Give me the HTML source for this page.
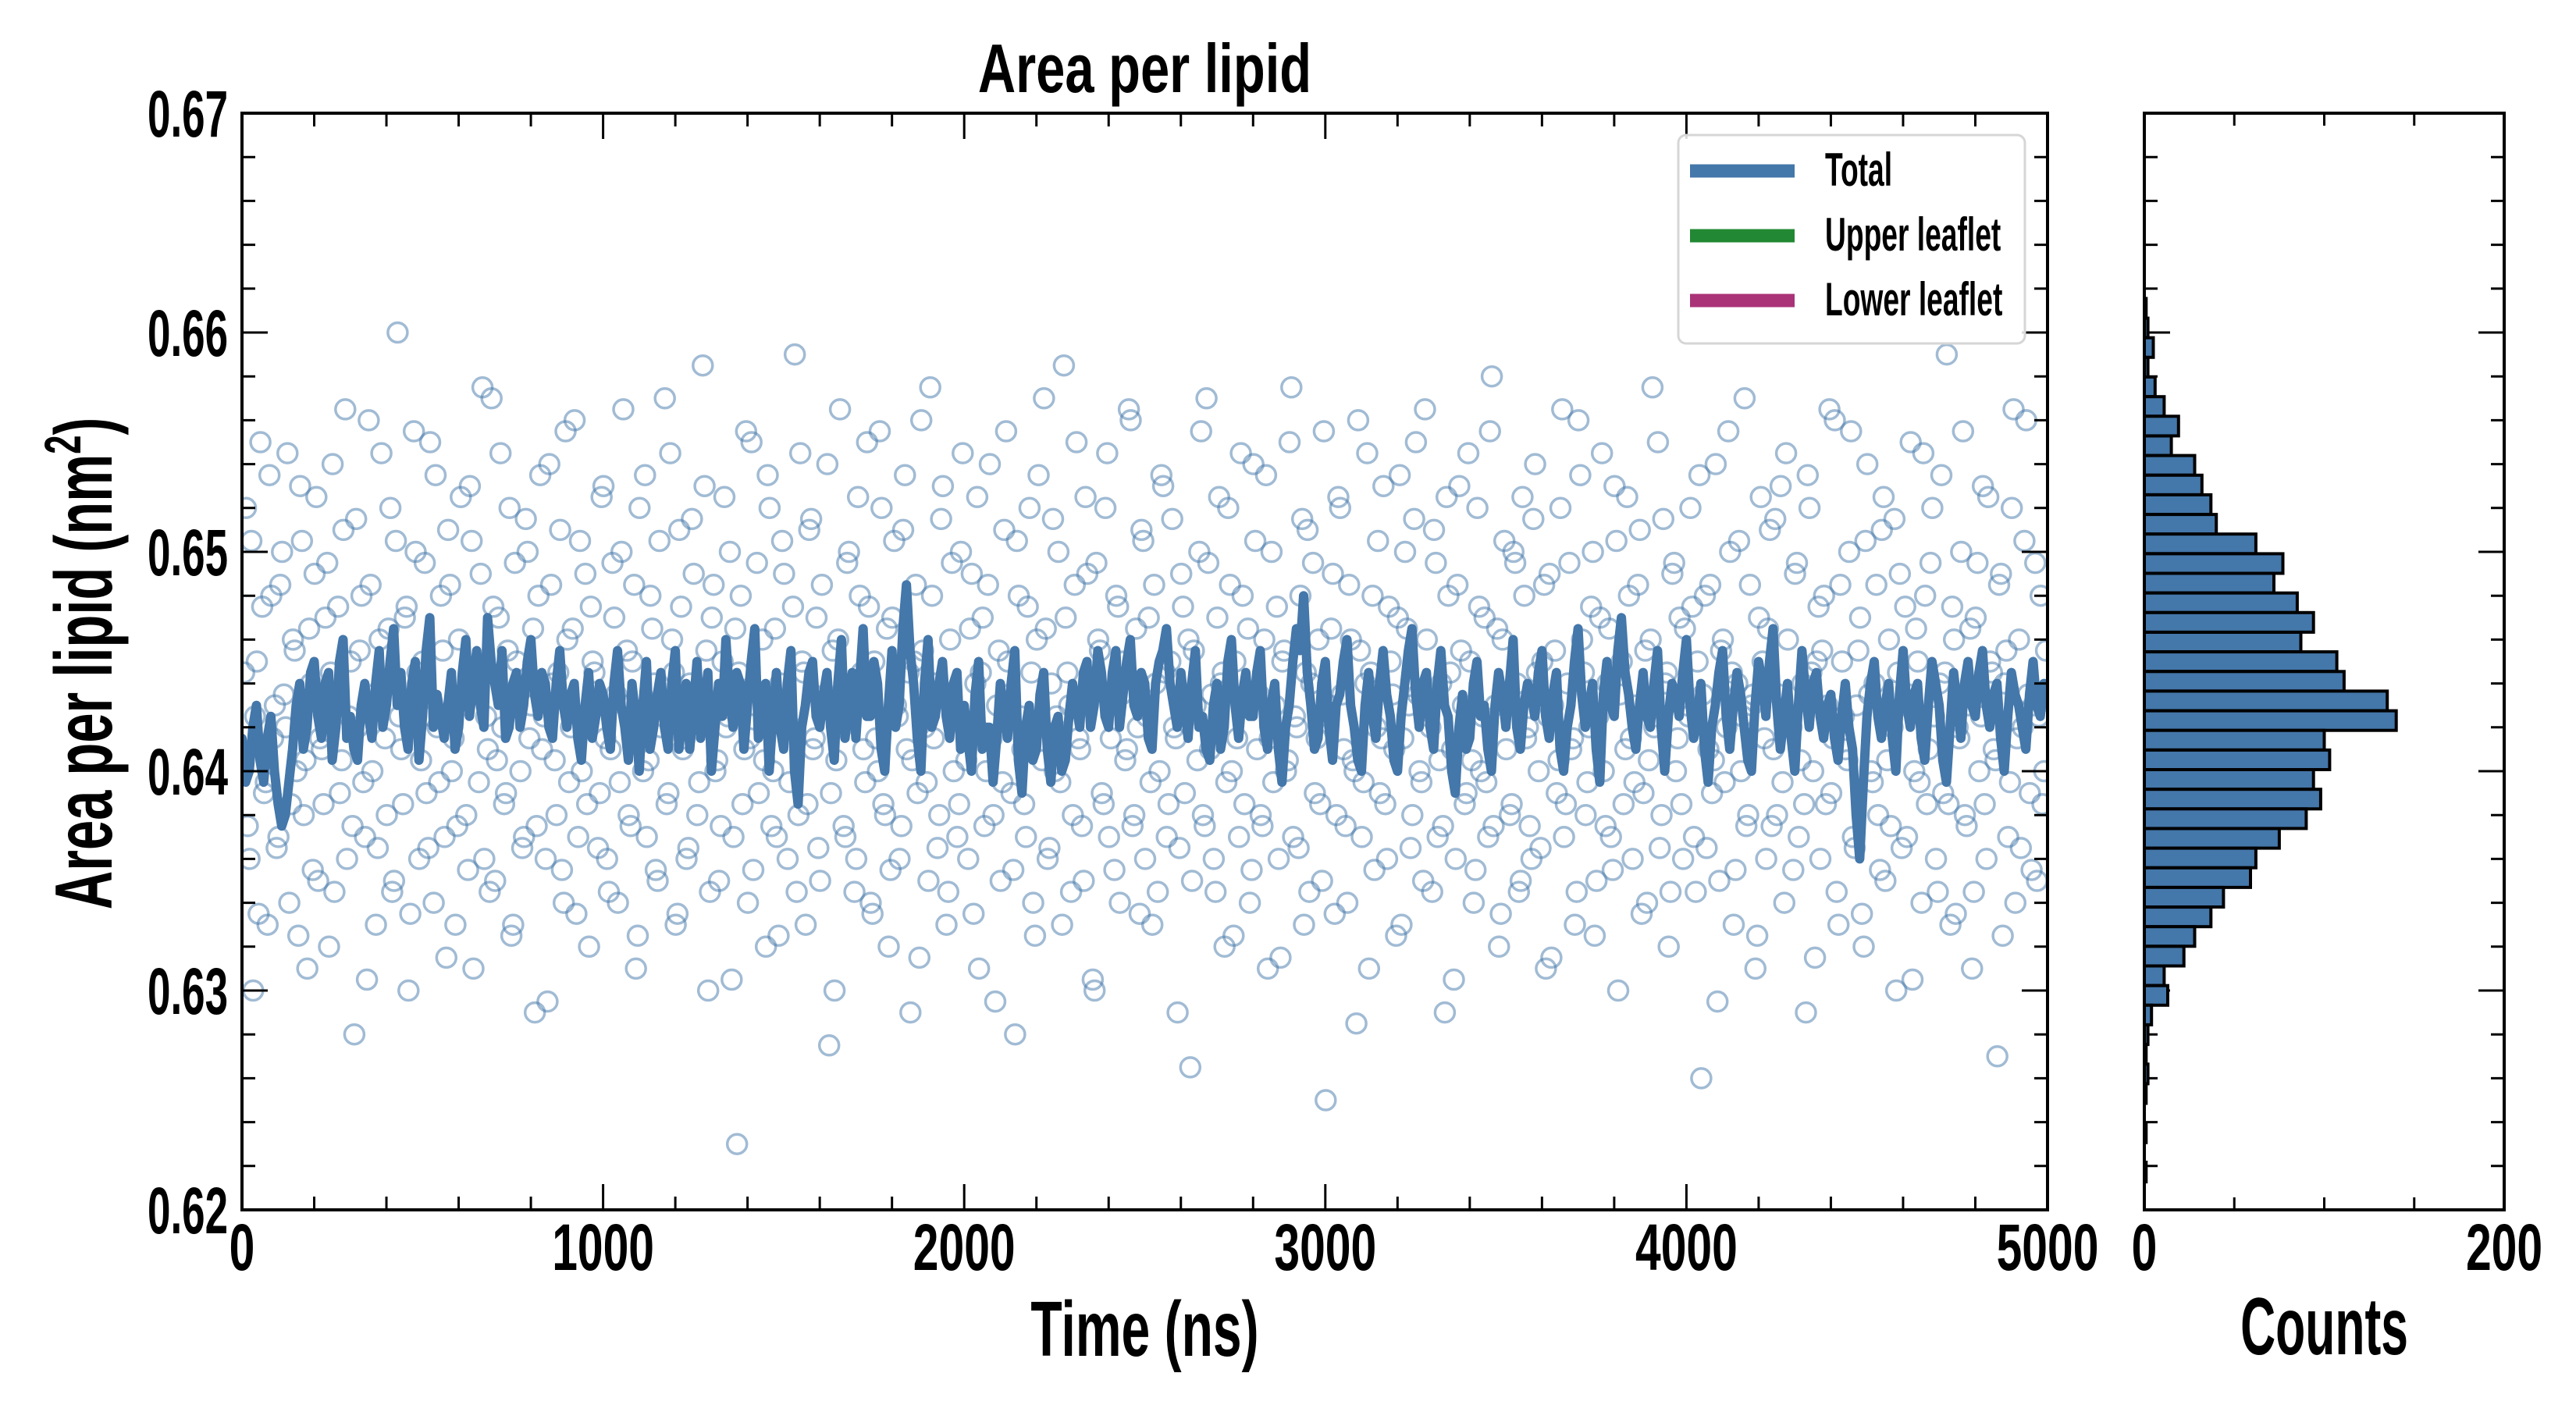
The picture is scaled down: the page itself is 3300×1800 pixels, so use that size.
<!DOCTYPE html>
<html><head><meta charset="utf-8"><title>Area per lipid</title>
<style>
html,body{margin:0;padding:0;background:#fff;}
svg{display:block;}
text{font-family:"Liberation Sans Narrow","Liberation Sans",sans-serif;font-weight:bold;fill:#000;}
</style></head>
<body>
<svg id="chart" xmlns="http://www.w3.org/2000/svg" width="3300" height="1800" viewBox="0 0 3300 1800">
<rect x="0" y="0" width="3300" height="1800" fill="#fff"/>
<g id="main"></g>
<g id="hist"></g>
</svg>
<script>
// ---- data ----
const lineStepNs = 10;
const lineValuesEven = [
0.6415,0.6400,0.6430,0.6395,0.6425,0.6385,0.6380,0.6410,0.6440,0.6420,
0.6450,0.6415,0.6445,0.6420,0.6460,0.6425,0.6405,0.6440,0.6415,0.6455,
0.6430,0.6465,0.6445,0.6410,0.6450,0.6425,0.6470,0.6435,0.6415,0.6445,
0.6420,0.6460,0.6440,0.6430,0.6470,0.6440,0.6455,0.6420,0.6445,0.6430,
0.6460,0.6425,0.6440,0.6415,0.6455,0.6420,0.6440,0.6405,0.6445,0.6425,
0.6435,0.6410,0.6455,0.6420,0.6440,0.6400,0.6450,0.6420,0.6445,0.6410,
0.6455,0.6425,0.6410,0.6450,0.6430,0.6400,0.6440,0.6460,0.6420,0.6440,
0.6430,0.6465,0.6425,0.6400,0.6445,0.6410,0.6455,0.6385,0.6430,0.6450,
0.6420,0.6445,0.6405,0.6460,0.6430,0.6415,0.6465,0.6425,0.6440,0.6400,
0.6455,0.6430,0.6485,0.6440,0.6400,0.6460,0.6425,0.6450,0.6415,0.6445,
0.6430,0.6400,0.6450,0.6420,0.6395,0.6440,0.6415,0.6455,0.6390,0.6430,
0.6410,0.6445,0.6395,0.6425,0.6405,0.6440,0.6420,0.6450,0.6430,0.6445,
0.6420,0.6455,0.6435,0.6460,0.6425,0.6440,0.6410,0.6450,0.6465,0.6430,
0.6445,0.6415,0.6455,0.6425,0.6405,0.6440,0.6420,0.6460,0.6415,0.6445,
0.6425,0.6455,0.6410,0.6440,0.6395,0.6430,0.6465,0.6480,0.6430,0.6415,
0.6450,0.6405,0.6435,0.6460,0.6420,0.6400,0.6445,0.6415,0.6455,0.6425,
0.6400,0.6440,0.6465,0.6420,0.6445,0.6410,0.6455,0.6425,0.6390,0.6435,
0.6415,0.6450,0.6430,0.6400,0.6445,0.6420,0.6460,0.6410,0.6440,0.6425,
0.6455,0.6415,0.6445,0.6400,0.6430,0.6465,0.6420,0.6440,0.6395,0.6450,
0.6425,0.6470,0.6435,0.6410,0.6445,0.6420,0.6455,0.6400,0.6440,0.6425,
0.6460,0.6415,0.6440,0.6395,0.6430,0.6455,0.6410,0.6445,0.6420,0.6400,
0.6450,0.6425,0.6465,0.6410,0.6440,0.6400,0.6455,0.6420,0.6445,0.6415,
0.6435,0.6405,0.6440,0.6410,0.6360,0.6425,0.6450,0.6415,0.6440,0.6400,
0.6455,0.6420,0.6440,0.6405,0.6450,0.6430,0.6395,0.6445,0.6415,0.6450,
0.6425,0.6455,0.6420,0.6440,0.6400,0.6445,0.6430,0.6410,0.6450,0.6425,0.6435
];
const lineValuesOdd = [
0.6395,0.6420,0.6405,0.6415,0.6400,0.6375,0.6395,0.6430,0.6410,0.6445,
0.6425,0.6440,0.6405,0.6450,0.6415,0.6410,0.6430,0.6425,0.6440,0.6420,
0.6450,0.6430,0.6420,0.6440,0.6405,0.6455,0.6420,0.6425,0.6430,0.6410,
0.6445,0.6425,0.6455,0.6420,0.6450,0.6430,0.6415,0.6440,0.6420,0.6450,
0.6435,0.6445,0.6420,0.6440,0.6430,0.6435,0.6415,0.6430,0.6415,0.6440,
0.6420,0.6440,0.6430,0.6405,0.6425,0.6430,0.6410,0.6435,0.6420,0.6440,
0.6410,0.6440,0.6430,0.6415,0.6445,0.6420,0.6425,0.6435,0.6445,0.6410,
0.6450,0.6415,0.6440,0.6425,0.6420,0.6440,0.6400,0.6420,0.6445,0.6425,
0.6435,0.6420,0.6440,0.6415,0.6445,0.6440,0.6425,0.6450,0.6410,0.6430,
0.6420,0.6465,0.6455,0.6415,0.6440,0.6420,0.6440,0.6425,0.6440,0.6410,
0.6415,0.6435,0.6410,0.6420,0.6415,0.6425,0.6440,0.6405,0.6420,0.6405,
0.6435,0.6410,0.6420,0.6400,0.6425,0.6430,0.6445,0.6420,0.6455,0.6425,
0.6445,0.6420,0.6450,0.6430,0.6445,0.6415,0.6440,0.6455,0.6440,0.6420,
0.6430,0.6440,0.6420,0.6410,0.6430,0.6410,0.6450,0.6430,0.6435,0.6425,
0.6445,0.6420,0.6430,0.6410,0.6420,0.6450,0.6455,0.6445,0.6410,0.6440,
0.6420,0.6430,0.6450,0.6430,0.6405,0.6430,0.6425,0.6440,0.6435,0.6405,
0.6425,0.6455,0.6435,0.6440,0.6420,0.6440,0.6430,0.6400,0.6420,0.6410,
0.6440,0.6425,0.6410,0.6430,0.6435,0.6440,0.6420,0.6430,0.6435,0.6445,
0.6425,0.6435,0.6410,0.6420,0.6450,0.6435,0.6430,0.6410,0.6435,0.6430,
0.6455,0.6445,0.6420,0.6430,0.6425,0.6440,0.6420,0.6425,0.6435,0.6445,
0.6430,0.6425,0.6410,0.6420,0.6445,0.6425,0.6430,0.6435,0.6405,0.6430,
0.6440,0.6450,0.6430,0.6425,0.6415,0.6430,0.6435,0.6440,0.6425,0.6430,
0.6415,0.6425,0.6420,0.6380,0.6395,0.6440,0.6425,0.6430,0.6415,0.6435,
0.6430,0.6435,0.6415,0.6430,0.6440,0.6405,0.6420,0.6430,0.6440,0.6430,
0.6445,0.6430,0.6435,0.6415,0.6425,0.6435,0.6420,0.6435,0.6430,0.6440
];
const scatterValues = [
.641,.652,.636,.630,.645,.655,.639,.633,.648,.643,.637,.650,.642,.634,.646,.640,.653,.638,.631,.644,
.649,.635,.641,.647,.632,.654,.643,.639,.651,.636,.645,.628,.642,.648,.637,.656,.640,.633,.646,.644,
.638,.652,.635,.660,.641,.647,.630,.643,.650,.636,.645,.639,.655,.634,.642,.648,.637,.651,.640,.633,
.646,.643,.638,.653,.631,.644,.649,.636,.641,.657,.635,.647,.642,.639,.652,.633,.645,.640,.637,.650,
.643,.629,.648,.641,.636,.654,.644,.638,.651,.634,.646,.642,.656,.637,.640,.649,.632,.645,.643,.639,
.653,.636,.641,.647,.634,.650,.643,.638,.645,.631,.652,.640,.637,.648,.644,.635,.642,.657,.639,.646,
.633,.651,.641,.636,.644,.649,.638,.643,.653,.630,.647,.640,.635,.645,.642,.650,.637,.623,.648,.641,
.634,.655,.643,.639,.646,.632,.652,.640,.637,.644,.649,.636,.642,.659,.638,.645,.633,.651,.641,.647,
.635,.643,.654,.639,.630,.646,.642,.637,.650,.644,.636,.648,.641,.655,.634,.645,.640,.652,.638,.632,
.647,.643,.636,.651,.641,.629,.645,.639,.656,.642,.635,.648,.644,.638,.653,.633,.646,.640,.637,.650,
.642,.636,.649,.644,.631,.647,.640,.654,.638,.643,.635,.651,.645,.639,.628,.648,.641,.637,.652,.634,
.646,.642,.657,.636,.644,.640,.650,.633,.647,.643,.638,.655,.641,.635,.649,.644,.630,.646,.639,.652,
.637,.643,.648,.634,.645,.641,.656,.638,.642,.651,.636,.647,.633,.644,.640,.653,.637,.645,.642,.629,
.649,.639,.646,.635,.643,.650,.638,.657,.641,.636,.647,.644,.632,.652,.640,.645,.637,.648,.643,.634,
.654,.641,.638,.646,.631,.650,.643,.636,.645,.640,.655,.637,.642,.648,.633,.651,.644,.639,.646,.635,
.625,.643,.649,.638,.652,.641,.634,.646,.640,.656,.637,.644,.631,.648,.642,.639,.653,.636,.645,.641,
.647,.633,.650,.643,.638,.655,.640,.635,.646,.642,.651,.637,.644,.629,.648,.641,.636,.653,.643,.639,
.645,.634,.652,.640,.647,.637,.658,.643,.632,.646,.641,.638,.650,.644,.635,.648,.642,.636,.654,.640,
.645,.631,.649,.643,.639,.652,.637,.644,.641,.633,.656,.646,.638,.642,.650,.635,.647,.640,.644,.637,
.653,.630,.645,.641,.648,.636,.643,.651,.639,.634,.646,.642,.655,.638,.644,.632,.649,.640,.647,.636,
.643,.652,.637,.645,.626,.648,.641,.639,.654,.635,.646,.642,.650,.633,.644,.640,.657,.638,.643,.631,
.647,.645,.636,.651,.641,.638,.653,.634,.646,.642,.649,.637,.644,.629,.652,.640,.645,.636,.648,.643,
.639,.656,.633,.645,.641,.650,.637,.643,.647,.632,.654,.640,.644,.638,.651,.635,.646,.642,.630,.649,
.643,.637,.655,.640,.645,.634,.648,.641,.652,.636,.644,.639,.659,.633,.646,.642,.650,.638,.643,.631,
.647,.640,.653,.636,.645,.641,.627,.649,.644,.637,.652,.634,.646,.642,.656,.639,.643,.635,.648,.640
];
const scatterValuesB = [
.6445,.6375,.6505,.6425,.6335,.6475,.6395,.6535,.6415,.6365,.6485,.6435,.6545,.6385,.6455,.6325,.6505,.6405,.6465,.6355,
.6525,.6415,.6385,.6495,.6445,.6345,.6475,.6405,.6565,.6425,.6375,.6515,.6455,.6395,.6305,.6485,.6435,.6365,.6545,.6415,
.6465,.6345,.6505,.6425,.6385,.6475,.6335,.6555,.6445,.6405,.6495,.6365,.6425,.6535,.6395,.6455,.6315,.6485,.6415,.6375,
.6525,.6435,.6355,.6505,.6445,.6395,.6575,.6425,.6345,.6475,.6405,.6545,.6385,.6455,.6325,.6495,.6435,.6365,.6515,.6415,
.6465,.6375,.6535,.6425,.6295,.6485,.6405,.6445,.6355,.6555,.6395,.6465,.6335,.6505,.6425,.6385,.6475,.6445,.6365,.6525,
.6415,.6345,.6495,.6435,.6395,.6565,.6455,.6375,.6485,.6325,.6415,.6535,.6405,.6465,.6355,.6505,.6425,.6385,.6545,.6445,
.6335,.6475,.6415,.6365,.6515,.6435,.6395,.6585,.6455,.6345,.6485,.6405,.6375,.6525,.6425,.6305,.6465,.6445,.6385,.6555,
.6415,.6355,.6495,.6435,.6405,.6535,.6375,.6465,.6325,.6505,.6425,.6395,.6475,.6345,.6545,.6445,.6385,.6515,.6415,.6365,
.6485,.6435,.6275,.6455,.6405,.6565,.6375,.6495,.6425,.6345,.6525,.6445,.6395,.6475,.6335,.6415,.6555,.6385,.6465,.6355,
.6505,.6425,.6375,.6535,.6445,.6405,.6485,.6315,.6455,.6395,.6575,.6415,.6365,.6515,.6435,.6345,.6495,.6425,.6385,.6545,
.6405,.6465,.6335,.6525,.6445,.6375,.6485,.6415,.6295,.6455,.6395,.6555,.6435,.6355,.6505,.6425,.6385,.6475,.6445,.6325,
.6535,.6405,.6465,.6365,.6515,.6425,.6395,.6585,.6445,.6345,.6485,.6415,.6375,.6525,.6435,.6305,.6495,.6455,.6385,.6545,
.6415,.6355,.6475,.6435,.6405,.6565,.6375,.6465,.6335,.6505,.6425,.6395,.6485,.6345,.6535,.6445,.6385,.6515,.6415,.6365,
.6475,.6425,.6265,.6455,.6405,.6555,.6375,.6495,.6435,.6345,.6525,.6445,.6395,.6485,.6325,.6415,.6545,.6385,.6465,.6355,
.6505,.6435,.6375,.6535,.6415,.6395,.6475,.6315,.6455,.6405,.6575,.6425,.6365,.6515,.6445,.6345,.6495,.6415,.6385,.6555,
.6425,.6465,.6335,.6525,.6435,.6375,.6485,.6405,.6285,.6455,.6395,.6545,.6445,.6355,.6505,.6415,.6385,.6475,.6435,.6325,
.6535,.6415,.6465,.6365,.6515,.6435,.6395,.6565,.6425,.6345,.6495,.6405,.6375,.6525,.6445,.6305,.6485,.6455,.6385,.6545,
.6405,.6355,.6475,.6425,.6395,.6555,.6375,.6465,.6335,.6505,.6435,.6385,.6495,.6345,.6525,.6415,.6375,.6515,.6445,.6365,
.6485,.6425,.6315,.6455,.6405,.6565,.6385,.6495,.6415,.6345,.6535,.6445,.6395,.6475,.6325,.6425,.6545,.6375,.6465,.6355,
.6505,.6435,.6385,.6525,.6415,.6395,.6485,.6335,.6455,.6405,.6575,.6425,.6365,.6515,.6445,.6345,.6495,.6415,.6385,.6465,
.6425,.6475,.6345,.6535,.6435,.6365,.6485,.6405,.6295,.6455,.6395,.6555,.6445,.6355,.6505,.6425,.6375,.6485,.6435,.6325,
.6525,.6415,.6465,.6375,.6515,.6435,.6395,.6545,.6425,.6355,.6495,.6405,.6385,.6535,.6445,.6315,.6475,.6455,.6385,.6565,
.6415,.6345,.6485,.6425,.6405,.6555,.6365,.6455,.6335,.6505,.6435,.6395,.6485,.6355,.6525,.6405,.6375,.6515,.6445,.6365,
.6475,.6435,.6305,.6465,.6395,.6545,.6385,.6495,.6425,.6345,.6535,.6445,.6385,.6475,.6335,.6415,.6555,.6375,.6465,.6345,
.6495,.6425,.6385,.6525,.6445,.6405,.6485,.6325,.6455,.6395,.6565,.6415,.6365,.6505,.6435,.6355,.6495,.6425,.6385,.6455
];
const histCounts = [1,2,5,2,6,11,19,15,28,32,37,40,62,77,72,85,94,87,107,111,135,140,100,103,94,98,90,75,62,59,44,37,28,22,11,13,4,2,1,2,1,0,1,0,1];
const histTopValue = 0.66155;
const histBinWidth = 0.000895;
const yTicks = [0.62,0.63,0.64,0.65,0.66,0.67];
const yTickLabels = ["0.62","0.63","0.64","0.65","0.66","0.67"];
const xTicks = [0,1000,2000,3000,4000,5000];
const xTickLabels = ["0","1000","2000","3000","4000","5000"];
const countTicks = [0,200];
const countTickLabels = ["0","200"];
const legendLabels = ["Total","Upper leaflet","Lower leaflet"];
const legendColors = ["#4477aa","#228833","#aa3377"];

// ---- geometry ----
const NS = "http://www.w3.org/2000/svg";
const PL = 310, PR = 2623, PT = 145, PB = 1550;
const HL = 2747, HR = 3208;
const xMin = 0, xMax = 5000, yMin = 0.62, yMax = 0.67, cMax = 200;
function xs(t){ return PL + (t - xMin) / (xMax - xMin) * (PR - PL); }
function ys(v){ return PB - (v - yMin) / (yMax - yMin) * (PB - PT); }
function cs(c){ return HL + c / cMax * (HR - HL); }
function mk(tag, attrs, parent){
  const e = document.createElementNS(NS, tag);
  for (const k in attrs) e.setAttribute(k, attrs[k]);
  parent.appendChild(e);
  return e;
}
function txt(s, x, y, size, anchor, parent, sx){
  const t = mk("text", {transform:"translate("+x+","+y+") scale("+(sx||0.66)+",1)", "font-size":size, "text-anchor":anchor}, parent);
  t.textContent = s;
  return t;
}
const main = document.getElementById("main");
const hist = document.getElementById("hist");

const defs = mk("defs", {}, document.getElementById("chart"));
const cp = mk("clipPath", {id:"clipMain"}, defs);
mk("rect", {x:PL, y:PT, width:PR-PL, height:PB-PT}, cp);

// scatter
const sg = mk("g", {"clip-path":"url(#clipMain)"}, main);


function drawScatter(arr, offsetFrac){
  const step = xMax / arr.length;
  arr.forEach(function(v, i){
    const t = (i + offsetFrac) * step;
    const c = mk("circle", {cx:xs(t).toFixed(1), cy:ys(v).toFixed(1), r:12.5, fill:"none", stroke:"#4477aa", "stroke-opacity":0.5, "stroke-width":3.5}, sg);
    
    
  });
}
drawScatter(scatterValues, 0.1);
drawScatter(scatterValuesB, 0.6);

// line (interleave even/odd samples)
let d = "";
for (let i = 0; i < lineValuesEven.length; i++){
  d += (i ? "L" : "M") + xs(2 * i * lineStepNs).toFixed(1) + "," + ys(lineValuesEven[i]).toFixed(1);
  if (i < lineValuesOdd.length) d += "L" + xs((2 * i + 1) * lineStepNs).toFixed(1) + "," + ys(lineValuesOdd[i]).toFixed(1);
}
const ln = mk("path", {d:d, fill:"none", stroke:"#4477aa", "stroke-width":12, "stroke-linejoin":"round", "stroke-linecap":"round", "clip-path":"url(#clipMain)"}, main);



function frame(parent, L, R, name){
  const r = mk("rect", {x:L, y:PT, width:R-L, height:PB-PT, fill:"none", stroke:"#000", "stroke-width":4}, parent);
  
  
  for (let v = 0; v <= 25; v++){
    const val = yMin + v * 0.002;
    const y = ys(val);
    const len = (v % 5 === 0) ? 33 : 17;
    mk("line", {x1:L, y1:y, x2:L+len, y2:y, stroke:"#000", "stroke-width":3}, parent);
    mk("line", {x1:R, y1:y, x2:R-len, y2:y, stroke:"#000", "stroke-width":3}, parent);
  }
}
frame(main, PL, PR, "main-plot-frame");
for (let t = 0; t <= 5000; t += 200){
  const x = xs(t);
  const len = (t % 1000 === 0) ? 33 : 17;
  mk("line", {x1:x, y1:PB, x2:x, y2:PB-len, stroke:"#000", "stroke-width":3}, main);
  mk("line", {x1:x, y1:PT, x2:x, y2:PT+len, stroke:"#000", "stroke-width":3}, main);
}
yTicks.forEach(function(v, i){
  const t = txt(yTickLabels[i], 292, ys(v) + 30, 84, "end", main, 0.63);
  
  
});
xTicks.forEach(function(v, i){
  const t = txt(xTickLabels[i], xs(v), 1627, 84, "middle", main, 0.7);
  
  
});

const title = txt("Area per lipid", (PL+PR)/2, 118, 88, "middle", main, 0.76);


const xl = txt("Time (ns)", (PL+PR)/2, 1737, 100, "middle", main, 0.66);


const yl = mk("text", {transform:"translate(143,850) rotate(-90) scale(0.66,1)", "font-size":104, "text-anchor":"middle"}, main);


yl.appendChild(document.createTextNode("Area per lipid (nm"));
const sup = mk("tspan", {"font-size":66, dy:-40}, yl);
sup.textContent = "2";
const cl = mk("tspan", {dy:40}, yl);
cl.textContent = ")";

// legend
const lg = mk("g", {}, main);


mk("rect", {x:2150, y:173, width:444, height:267, rx:10, fill:"#fff", "fill-opacity":0.85, stroke:"#d6d6d6", "stroke-width":3}, lg);
legendLabels.forEach(function(s, i){
  const yy = 219 + i * 83;
  const ent = mk("g", {}, lg);
  
  
  mk("line", {x1:2165, y1:yy, x2:2299, y2:yy, stroke:legendColors[i], "stroke-width":17}, ent);
  txt(s, 2338, yy + 19, 60, "start", ent, 0.62);
});

// histogram
frame(hist, HL, HR, "histogram-frame");
histCounts.forEach(function(c, i){
  const top = histTopValue - i * histBinWidth;
  const y1 = ys(top), y2 = ys(top - histBinWidth);
  const b = mk("rect", {x:HL, y:y1.toFixed(1), width:Math.max(0, cs(c) - HL).toFixed(1), height:(y2 - y1).toFixed(1), fill:"#4477aa", stroke:"#000", "stroke-width":4}, hist);
  
  
});
for (let c = 0; c <= 200; c += 50){
  const x = cs(c);
  mk("line", {x1:x, y1:PB, x2:x, y2:PB-16, stroke:"#000", "stroke-width":3}, hist);
  mk("line", {x1:x, y1:PT, x2:x, y2:PT+16, stroke:"#000", "stroke-width":3}, hist);
}
countTicks.forEach(function(v, i){
  const t = txt(countTickLabels[i], cs(v), 1627, 84, "middle", hist, 0.7);
  
  
});
const ctl = txt("Counts", (HL+HR)/2, 1735, 104, "middle", hist, 0.6);


</script>
</body></html>
